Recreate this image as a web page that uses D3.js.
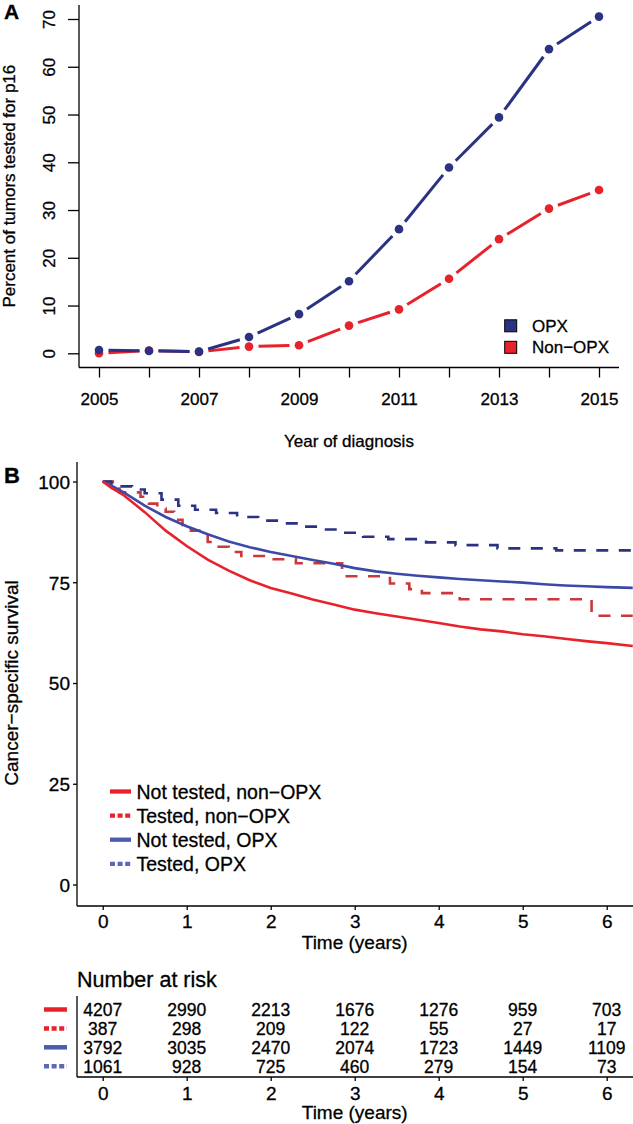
<!DOCTYPE html>
<html lang="en">
<head>
<meta charset="UTF-8">
<title>p16 testing and survival</title>
<script src="https://d3js.org/d3.v7.min.js"></script>
<style>
    body { margin: 0; background: #fff; }
    svg { display: block; font-family: "Liberation Sans", Arial, Helvetica, sans-serif; }
    svg text { fill: #000; stroke: #000; stroke-width: 0.3px; }
    .axis line, .axis path { stroke: #000; stroke-width: 1.3; }
</style>
</head>
<body>
<svg id="chart" width="633" height="1124"></svg>
<script>
// ---- panel A data ----
const years = [2005, 2006, 2007, 2008, 2009, 2010, 2011, 2012, 2013, 2014, 2015];
const opxPct = [0.7, 0.5, 0.35, 3.4, 8.2, 15.1, 26.0, 38.9, 49.4, 63.7, 70.5];
const nonOpxPct = [0.0, 0.6, 0.3, 1.4, 1.7, 5.8, 9.2, 15.6, 23.9, 30.3, 34.2];
const yTicksA = [0, 10, 20, 30, 40, 50, 60, 70];

// ---- panel B data ----
const timesSmooth = [0, 0.1, 0.25, 0.5, 0.75, 1, 1.25, 1.5, 1.75, 2, 2.25, 2.5, 2.75, 3, 3.25, 3.5, 3.75, 4, 4.25, 4.5, 4.75, 5, 5.25, 5.5, 5.75, 6, 6.31];
const survNotTestedNonOpx = [100, 98.5, 96.6, 92.4, 87.8, 84.0, 80.6, 77.9, 75.5, 73.6, 72.2, 70.7, 69.5, 68.2, 67.3, 66.5, 65.7, 64.9, 64.0, 63.3, 62.8, 62.1, 61.6, 61.0, 60.4, 59.9, 59.2];
const survNotTestedOpx = [100, 99.0, 97.3, 94.0, 91.2, 88.9, 86.9, 85.1, 83.7, 82.5, 81.5, 80.5, 79.6, 78.5, 77.7, 77.1, 76.6, 76.2, 75.8, 75.5, 75.2, 74.9, 74.5, 74.2, 74.0, 73.8, 73.6];

const timesTestedNonOpx = [0, 0.12, 0.2, 0.45, 0.55, 0.65, 0.75, 0.85, 0.95, 1.05, 1.15, 1.25, 1.32, 1.5, 1.65, 1.95, 2.3, 2.85, 3.42, 3.65, 3.8, 4.25, 5.82, 6.31];
const survTestedNonOpx = [100, 98.9, 97.3, 96.2, 94.5, 93.3, 92.5, 90.5, 88.8, 87.8, 86.7, 85.0, 83.8, 82.5, 81.5, 80.7, 79.7, 76.5, 74.7, 73.3, 72.3, 70.8, 66.7, 66.7];

const timesTestedOpx = [0, 0.1, 0.2, 0.35, 0.5, 0.7, 0.9, 1.1, 1.35, 1.6, 1.85, 2.1, 2.35, 2.6, 2.85, 3.1, 3.4, 3.85, 4.2, 4.7, 5.4, 6.31];
const survTestedOpx = [100, 99.5, 98.8, 98.0, 97.1, 95.5, 94.0, 93.0, 92.2, 91.2, 90.3, 89.6, 88.8, 88.1, 87.3, 86.3, 85.7, 84.9, 84.2, 83.4, 82.9, 82.9];

const yTicksB = [0, 25, 50, 75, 100];
const timeTicks = [0, 1, 2, 3, 4, 5, 6];
const legendLabels = ["Not tested, non\u2212OPX", "Tested, non\u2212OPX", "Not tested, OPX", "Tested, OPX"];
const riskNotTestedNonOpx = [4207, 2990, 2213, 1676, 1276, 959, 703];
const riskTestedNonOpx = [387, 298, 209, 122, 55, 27, 17];
const riskNotTestedOpx = [3792, 3035, 2470, 2074, 1723, 1449, 1109];
const riskTestedOpx = [1061, 928, 725, 460, 279, 154, 73];

const navy = "#2c3282", redA = "#e6222b";
const svg = d3.select("#chart");

// ================= Panel A =================
const xA = d3.scaleLinear().domain([2005, 2015]).range([99, 599]);
const yA = d3.scaleLinear().domain([0, 70]).range([353.3, 19]);

svg.append("line").attr("x1", 79).attr("x2", 79).attr("y1", 5).attr("y2", 367.5)
    .attr("stroke", "#000").attr("stroke-width", 1.3);
svg.append("line").attr("x1", 79).attr("x2", 619).attr("y1", 367.5).attr("y2", 367.5)
    .attr("stroke", "#000").attr("stroke-width", 1.3);

const axA = svg.append("g").attr("class", "axis").attr("transform", "translate(79,0)")
    .call(d3.axisLeft(yA).tickValues(yTicksA).tickSize(11).tickSizeOuter(0));
axA.select(".domain").remove();
axA.selectAll("text")
    .attr("transform", "rotate(-90)")
    .attr("x", 0).attr("y", -24).attr("dy", null)
    .attr("text-anchor", "middle")
    .style("font-size", "17px");

const axAx = svg.append("g").attr("class", "axis").attr("transform", "translate(0,367.5)")
    .call(d3.axisBottom(xA).tickValues(years).tickSize(10).tickSizeOuter(0)
        .tickFormat(d => d % 2 === 1 ? d : ""));
axAx.select(".domain").remove();
axAx.selectAll("text").attr("y", 37.5).attr("dy", null).style("font-size", "17px");

svg.append("text").attr("x", xA(2010)).attr("y", 447).attr("text-anchor", "middle")
    .style("font-size", "17px").text("Year of diagnosis");
svg.append("text").attr("transform", `translate(15,${(yA(0) + yA(70)) / 2}) rotate(-90)`)
    .attr("text-anchor", "middle").style("font-size", "17px")
    .text("Percent of tumors tested for p16");
svg.append("text").attr("x", 4).attr("y", 19).style("font-size", "21px")
    .style("font-weight", "bold").text("A");

// type="b" style: segments with a gap round each point
function drawSeriesA(vals, color) {
    const gap = 9.5;
    const pts = years.map((yr, i) => [xA(yr), yA(vals[i])]);
    const g = svg.append("g");
    for (let i = 0; i < pts.length - 1; i++) {
        const [x1, y1] = pts[i], [x2, y2] = pts[i + 1];
        const len = Math.hypot(x2 - x1, y2 - y1);
        if (len <= 2 * gap) continue;
        const ux = (x2 - x1) / len, uy = (y2 - y1) / len;
        g.append("line")
            .attr("x1", x1 + ux * gap).attr("y1", y1 + uy * gap)
            .attr("x2", x2 - ux * gap).attr("y2", y2 - uy * gap)
            .attr("stroke", color).attr("stroke-width", 3);
    }
    g.selectAll("circle").data(pts).enter().append("circle")
        .attr("cx", d => d[0]).attr("cy", d => d[1]).attr("r", 4.3)
        .attr("fill", color);
}
drawSeriesA(nonOpxPct, redA);
drawSeriesA(opxPct, navy);

// legend A
const legA = [["OPX", navy], ["Non\u2212OPX", redA]];
legA.forEach((d, i) => {
    const cy = 325.8 + i * 21.5;
    svg.append("rect").attr("x", 504.7).attr("y", cy - 6).attr("width", 12).attr("height", 12)
        .attr("fill", d[1]).attr("stroke", "#000").attr("stroke-width", 1);
    svg.append("text").attr("x", 532).attr("y", cy + 6.1).style("font-size", "17px").text(d[0]);
});

// ================= Panel B =================
const xB = d3.scaleLinear().domain([0, 6]).range([102.7, 606.7]);
const yB = d3.scaleLinear().domain([0, 100]).range([884.5, 481.5]);

svg.append("line").attr("x1", 77).attr("x2", 77).attr("y1", 462).attr("y2", 906)
    .attr("stroke", "#000").attr("stroke-width", 1.3);
svg.append("line").attr("x1", 77).attr("x2", 633).attr("y1", 906).attr("y2", 906)
    .attr("stroke", "#000").attr("stroke-width", 1.3);

const axBy = svg.append("g").attr("class", "axis").attr("transform", "translate(77,0)")
    .call(d3.axisLeft(yB).tickValues(yTicksB).tickSize(4).tickSizeOuter(0).tickPadding(3));
axBy.select(".domain").remove();
axBy.selectAll("text").attr("dy", "0.36em").style("font-size", "19px");

const axBx = svg.append("g").attr("class", "axis").attr("transform", "translate(0,906)")
    .call(d3.axisBottom(xB).tickValues(timeTicks).tickFormat(d3.format("d"))
        .tickSize(4).tickSizeOuter(0));
axBx.select(".domain").remove();
axBx.selectAll("text").attr("y", 21.5).attr("dy", null).style("font-size", "19px");

svg.append("text").attr("x", xB(3)).attr("y", 949).attr("text-anchor", "middle")
    .style("font-size", "19px").text("Time (years)");
svg.append("text").attr("transform", `translate(17.5,${(yB(0) + yB(100)) / 2}) rotate(-90)`)
    .attr("text-anchor", "middle").style("font-size", "19px")
    .text("Cancer\u2212specific survival");
svg.append("text").attr("x", 4).attr("y", 483).style("font-size", "22px")
    .style("font-weight", "bold").text("B");

const smoothLine = d3.line().x(d => xB(d[0])).y(d => yB(d[1]));
const stepLine = d3.line().x(d => xB(d[0])).y(d => yB(d[1])).curve(d3.curveStepAfter);

const curves = [
    { t: timesTestedNonOpx, s: survTestedNonOpx, color: "#c9393c", gen: stepLine, dash: "12,10.5" },
    { t: timesTestedOpx, s: survTestedOpx, color: navy, gen: stepLine, dash: "12,10.5" },
    { t: timesSmooth, s: survNotTestedOpx, color: "#3b4aa6", gen: smoothLine, dash: null },
    { t: timesSmooth, s: survNotTestedNonOpx, color: "#e8212a", gen: smoothLine, dash: null }
];
curves.forEach(c => {
    svg.append("path")
        .datum(c.t.map((t, i) => [t, c.s[i]]))
        .attr("d", c.gen)
        .attr("fill", "none")
        .attr("stroke", c.color)
        .attr("stroke-width", 2.6)
        .attr("stroke-dasharray", c.dash);
});

// legend B
const legStyles = [["#e8212a", null], ["#e8212a", "5,2.6"], ["#4c5bad", null], ["#5a6ab5", "5,2.6"]];
legendLabels.forEach((lab, i) => {
    const cy = 791.5 + i * 24.1;
    svg.append("line").attr("x1", 110).attr("x2", 131).attr("y1", cy).attr("y2", cy)
        .attr("stroke", legStyles[i][0]).attr("stroke-width", 4.3)
        .attr("stroke-dasharray", legStyles[i][1]);
    svg.append("text").attr("x", 136.5).attr("y", cy + 7).style("font-size", "19.5px").text(lab);
});

// ================= number at risk table =================
svg.append("text").attr("x", 77).attr("y", 986.7).style("font-size", "21.5px").text("Number at risk");

const riskRows = [riskNotTestedNonOpx, riskTestedNonOpx, riskNotTestedOpx, riskTestedOpx];
riskRows.forEach((row, r) => {
    const cy = 1009.5 + r * 18.9;
    svg.append("line").attr("x1", 44).attr("x2", 67).attr("y1", cy).attr("y2", cy)
        .attr("stroke", legStyles[r][0]).attr("stroke-width", 4.5)
        .attr("stroke-dasharray", legStyles[r][1]);
    svg.selectAll(null).data(row).enter().append("text")
        .attr("x", (d, i) => xB(timeTicks[i]))
        .attr("y", cy + 6.3)
        .attr("text-anchor", "middle")
        .style("font-size", "17.5px")
        .text(d => d);
});

svg.append("line").attr("x1", 77).attr("x2", 77).attr("y1", 996).attr("y2", 1077)
    .attr("stroke", "#000").attr("stroke-width", 1.3);
svg.append("line").attr("x1", 77).attr("x2", 633).attr("y1", 1077).attr("y2", 1077)
    .attr("stroke", "#000").attr("stroke-width", 1.3);
const axR = svg.append("g").attr("class", "axis").attr("transform", "translate(0,1077)")
    .call(d3.axisBottom(xB).tickValues(timeTicks).tickFormat(d3.format("d"))
        .tickSize(4).tickSizeOuter(0));
axR.select(".domain").remove();
axR.selectAll("text").attr("y", 23).attr("dy", null).style("font-size", "19px");
svg.append("text").attr("x", xB(3)).attr("y", 1119).attr("text-anchor", "middle")
    .style("font-size", "19px").text("Time (years)");
</script>
</body>
</html>
